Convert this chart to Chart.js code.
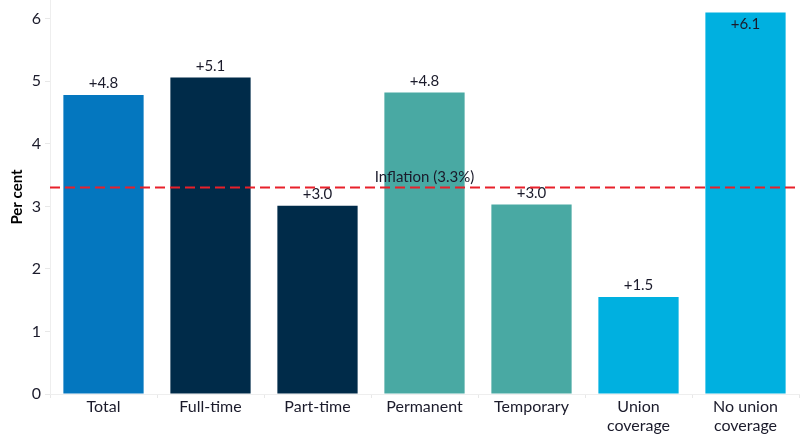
<!DOCTYPE html>
<html>
<head>
<meta charset="utf-8">
<script src="https://cdn.jsdelivr.net/npm/chart.js@4/dist/chart.umd.min.js"></script>
<style>
html,body{margin:0;padding:0;background:#fff;}
#wrap{width:800px;height:441px;position:relative;}
</style>
</head>
<body>
<div id="wrap"><canvas id="c"></canvas></div>
<script>
const categories = ["Total", "Full-time", "Part-time", "Permanent", "Temporary", ["Union", "coverage"], ["No union", "coverage"]];
const values = [4.78, 5.06, 3.01, 4.82, 3.03, 1.55, 6.1];
const valueLabels = ["+4.8", "+5.1", "+3.0", "+4.8", "+3.0", "+1.5", "+6.1"];
const barColors = ["#0477BF", "#002B49", "#002B49", "#49A9A3", "#49A9A3", "#00B0E0", "#00B0E0"];
const yTicks = [0, 1, 2, 3, 4, 5, 6];
const inflation = 3.3;
const inflationLabel = "Inflation (3.3%)";
const yTitle = "Per cent";

const FONT = "Lato, 'Open Sans', sans-serif";
const TEXT = "#1b1b2b";

const labelsPlugin = {
  id: 'valLabels',
  afterDatasetsDraw(chart) {
    const ctx = chart.ctx;
    const meta = chart.getDatasetMeta(0);
    ctx.save();
    ctx.font = "15px " + FONT;
    ctx.fillStyle = TEXT;
    ctx.textAlign = "center";
    ctx.textBaseline = "bottom";
    meta.data.forEach((bar, i) => {
      let y = bar.y - 4;
      if (y < 22) y = 32;
      ctx.fillText(valueLabels[i], bar.x, y);
    });
    ctx.restore();
  }
};

const inflationPlugin = {
  id: 'inflation',
  afterDatasetsDraw(chart) {
    const ctx = chart.ctx;
    const ys = chart.scales.y;
    const area = chart.chartArea;
    const y = ys.getPixelForValue(inflation);
    ctx.save();
    ctx.strokeStyle = "#E8202A";
    ctx.lineWidth = 2;
    ctx.setLineDash([10, 5]);
    ctx.beginPath();
    ctx.moveTo(area.left, y);
    ctx.lineTo(area.right + 1, y);
    ctx.stroke();
    ctx.setLineDash([]);
    ctx.font = "15px " + FONT;
    ctx.fillStyle = TEXT;
    ctx.textAlign = "center";
    ctx.textBaseline = "bottom";
    ctx.fillText(inflationLabel, (area.left + area.right) / 2, y - 3);
    ctx.restore();
  }
};

new Chart(document.getElementById('c'), {
  type: 'bar',
  data: {
    labels: categories,
    datasets: [{
      data: values,
      backgroundColor: barColors,
      borderWidth: 0,
      categoryPercentage: 0.75,
      barPercentage: 1.0
    }]
  },
  options: {
    responsive: true,
    maintainAspectRatio: false,
    animation: false,
    devicePixelRatio: 1,
    layout: { padding: { top: 0, right: 1, left: 0, bottom: 0 } },
    plugins: { legend: { display: false }, tooltip: { enabled: false } },
    scales: {
      x: {
        grid: { display: true, drawOnChartArea: false, drawTicks: true, tickLength: 4, color: "#e8e8e8", offset: true },
        border: { display: true, color: "#eeeeee" },
        ticks: { color: TEXT, font: { family: FONT, size: 16, lineHeight: 1.15 }, padding: 0, maxRotation: 0, autoSkip: false },
        afterFit(s) { s.height = 47; s.paddingLeft = 0; s.paddingRight = 0; }
      },
      y: {
        min: 0,
        max: 6.3,
        grid: { display: true, drawOnChartArea: false, drawTicks: true, tickLength: 5, color: "#e8e8e8" },
        border: { display: true, color: "#eeeeee" },
        afterBuildTicks(s) { s.ticks = yTicks.map(v => ({ value: v })); },
        ticks: {
          color: TEXT,
          font: { family: FONT, size: 16 },
          padding: 4
        },
        title: { display: true, text: yTitle, color: "#000", font: { family: FONT, size: 15, weight: 'bold' }, padding: { top: 8, bottom: 4 } },
        afterFit(s) { s.width = 50; s.paddingTop = 0; s.paddingBottom = 0; }
      }
    }
  },
  plugins: [labelsPlugin, inflationPlugin]
});
</script>
</body>
</html>
